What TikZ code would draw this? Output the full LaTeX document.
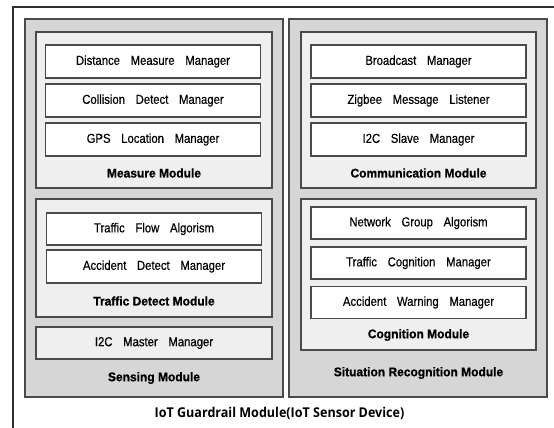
\documentclass[tikz,border=0pt]{standalone}
\usepackage{fontspec}
\setmainfont{Liberation Sans}
\newfontfamily\itemfont[FakeStretch=0.87,WordSpace=3.4,FakeBold=0.4]{Liberation Sans}
\newfontfamily\modfont[UprightFont={* Bold},FakeBold=0.9,FakeStretch=0.96]{Liberation Sans}
\newfontfamily\titlefont[FakeStretch=0.93]{Open Sans}
\definecolor{outerfill}{HTML}{D6D6D6}
\definecolor{modfill}{HTML}{EFEFEF}
\definecolor{edge}{HTML}{4A4A4A}
\definecolor{frame}{HTML}{303030}
\begin{document}
\begin{tikzpicture}[x=1pt,y=-1pt,
  outerbox/.style={draw=edge,line width=1.3pt,fill=outerfill,inner sep=0pt,outer sep=0pt},
  modbox/.style={draw=edge,line width=1.1pt,fill=modfill,inner sep=0pt,outer sep=0pt},
  itembox/.style={draw=edge,line width=1.1pt,fill=white,inner sep=0pt,outer sep=0pt,
    minimum width=215pt,font=\itemfont\fontsize{13}{15}\selectfont},
  grayitem/.style={itembox,fill=modfill,minimum width=236pt},
  modlabel/.style={inner sep=0pt,font=\modfont\fontsize{12.5}{14}\selectfont},
  titlelabel/.style={inner sep=0pt,font=\titlefont\bfseries\fontsize{13.5}{15}\selectfont}]
\useasboundingbox (0,0) rectangle (554,428);
% frame
\coordinate (ftl) at (13,7);
\coordinate (ftr) at (554,7);
\coordinate (fbl) at (13,428);
\draw[frame,line width=1.2pt] (ftr) -- (ftl) -- (fbl);
% outer columns
\node[outerbox,minimum width=258pt,minimum height=378pt] (sensing) at (154,208) {};
\node[outerbox,minimum width=258pt,minimum height=378pt] (situation) at (418,208) {};
% left modules
\node[modbox,minimum width=236pt,minimum height=156pt] (measure) at (154,110) {};
\node[modbox,minimum width=236pt,minimum height=118pt] (traffic) at (154,258) {};
\node[grayitem,minimum height=32pt] (i2cm) at (154,343) {I2C Master Manager};
\node[itembox,minimum height=33pt] (dist) at (153,61.5) {Distance Measure Manager};
\node[itembox,minimum height=33pt] (coll) at (153,100.5) {Collision Detect Manager};
\node[itembox,minimum height=33pt] (gps) at (153,139.5) {GPS Location Manager};
\node[modlabel] (measurel) at (154,173) {Measure Module};
\node[itembox,minimum height=32pt] (flow) at (154,229) {Traffic Flow Algorism};
\node[itembox,minimum height=33pt] (accd) at (154,266.5) {Accident Detect Manager};
\node[modlabel] (trafficl) at (154,301) {Traffic Detect Module};
\node[modlabel] (sensingl) at (154,378) {Sensing Module};
% right modules
\node[modbox,minimum width=235pt,minimum height=156pt] (comm) at (418.5,110) {};
\node[modbox,minimum width=235pt,minimum height=151pt] (cogn) at (418.5,274.5) {};
\node[itembox,minimum height=33pt] (bcast) at (418.5,61.5) {Broadcast Manager};
\node[itembox,minimum height=33pt] (zig) at (418.5,100.5) {Zigbee Message Listener};
\node[itembox,minimum height=33pt] (i2cs) at (418.5,139.5) {I2C Slave Manager};
\node[modlabel] (comml) at (418.5,173) {Communication Module};
\node[itembox,minimum height=32pt] (netg) at (418.5,223) {Network Group Algorism};
\node[itembox,minimum height=32pt] (tcog) at (418.5,263) {Traffic Cognition Manager};
\node[itembox,minimum height=32pt] (accw) at (418.5,302.5) {Accident Warning Manager};
\node[modlabel] (cognl) at (418.5,335) {Cognition Module};
\node[modlabel] (situationl) at (418.5,373) {Situation Recognition Module};
% title
\node[titlelabel] (title) at (279.5,413) {IoT Guardrail Module(IoT Sensor Device)};
\end{tikzpicture}
\end{document}
